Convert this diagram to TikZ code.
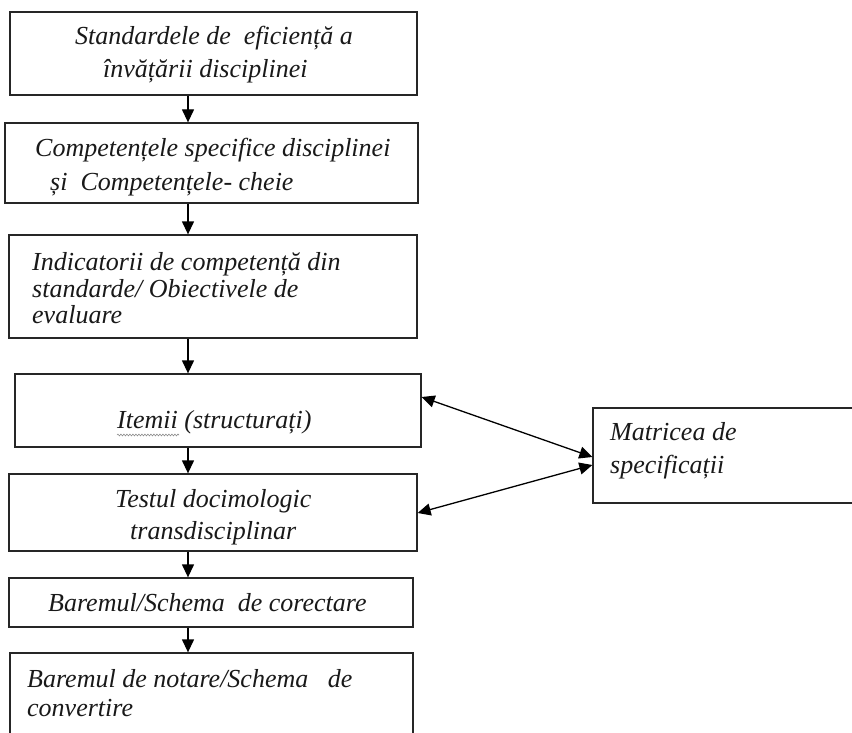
\documentclass[tikz,border=0pt]{standalone}
\usepackage{fontspec}
\setmainfont{Liberation Serif}
\usetikzlibrary{arrows.meta,decorations.pathmorphing}
\tikzset{
  box/.style={draw=black!85, line width=1.3pt, rectangle, inner sep=0pt, fill=none},
  txt/.style={inner sep=0pt, font=\fontsize{26}{30}\selectfont\itshape, anchor=base west, text=black!90},
  arr/.style={line width=1.3pt, -{Triangle[length=13pt,width=12pt]}},
  darr/.style={line width=1.3pt, {Triangle[length=13pt,width=12pt]}-{Triangle[length=13pt,width=12pt]}}
}
\begin{document}
\begin{tikzpicture}[x=1pt,y=-1pt]
\useasboundingbox (0,0) rectangle (852,733);
\clip (0,0) rectangle (852,733);
\fill[white] (0,0) rectangle (852,733);
% boxes
\node[box, minimum width=407pt, minimum height=83pt] (b1) at (213.5,53.5) {};
\node[box, minimum width=413pt, minimum height=80pt] (b2) at (211.5,163) {};
\node[box, minimum width=408pt, minimum height=103pt] (b3) at (213,286.5) {};
\node[box, minimum width=406pt, minimum height=73pt] (b4) at (218,410.5) {};
\node[box, minimum width=408pt, minimum height=77pt] (b5) at (213,512.5) {};
\node[box, minimum width=404pt, minimum height=49pt] (b6) at (211,602.5) {};
\node[box, minimum width=403pt, minimum height=92pt] (b7) at (211.5,699) {};
\node[box, minimum width=267pt, minimum height=95pt] (m) at (726.5,455.5) {};
% texts
\node[txt] (t1a) at (75,45) {Standardele de~ eficiență a};
\node[txt] (t1b) at (103,78) {învățării disciplinei};
\node[txt] (t2a) at (35,157) {Competențele specifice disciplinei};
\node[txt] (t2b) at (50,191) {și~ Competențele- cheie};
\node[txt] (t3a) at (32,270) {Indicatorii de competență din};
\node[txt] (t3b) at (32,297) {standarde/ Obiectivele de};
\node[txt] (t3c) at (32,323) {evaluare};
\node[txt] (t4) at (117,428) {Itemii (structurați)};
\node[txt] (t5a) at (115,507) {Testul docimologic};
\node[txt] (t5b) at (130,539) {transdisciplinar};
\node[txt] (t6) at (48,611) {Baremul/Schema~ de corectare};
\node[txt] (t7a) at (27,687) {Baremul de notare/Schema~~ de};
\node[txt] (t7b) at (27,716) {convertire};
\node[txt] (tm1) at (610,440) {Matricea de};
\node[txt] (tm2) at (610,473) {specificații};
% spell-check squiggle
\coordinate (w1) at (117,435);
\coordinate (w2) at (179,435);
\draw[black!45, line width=0.6pt, decorate, decoration={snake, segment length=3pt, amplitude=0.9pt}] (w1) -- (w2);
% vertical arrows
\coordinate (ax) at (188,0);
\draw[arr] (b1.south -| ax) -- (b2.north -| ax);
\draw[arr] (b2.south -| ax) -- (b3.north -| ax);
\draw[arr] (b3.south -| ax) -- (b4.north -| ax);
\draw[arr] (b4.south -| ax) -- (b5.north -| ax);
\draw[arr] (b5.south -| ax) -- (b6.north -| ax);
\draw[arr] (b6.south -| ax) -- (b7.north -| ax);
% double arrows
\coordinate (p1) at (422,397);
\coordinate (q1) at (593,457);
\coordinate (p2) at (423,513);
\coordinate (q2) at (593,465);
\draw[darr] (b4.east |- p1) -- (m.west |- q1);
\draw[darr] (b5.east |- p2) -- (m.west |- q2);
\end{tikzpicture}
\end{document}
